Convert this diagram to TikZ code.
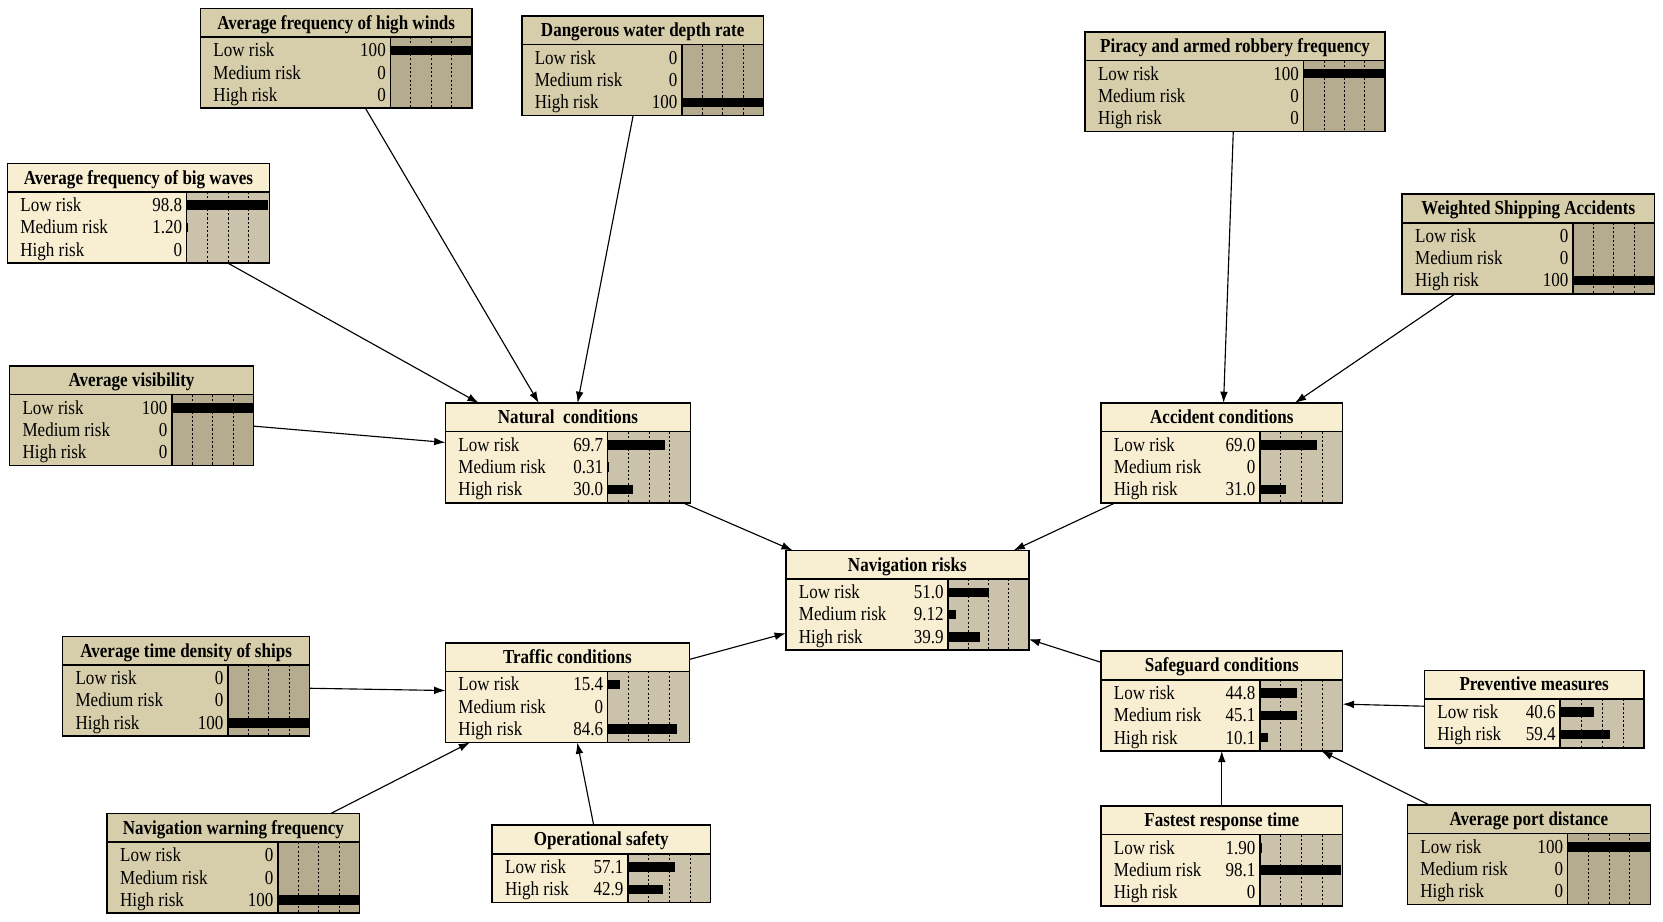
\documentclass[tikz,border=0pt]{standalone}
\usepackage{fontspec}
\setmainfont{Liberation Serif}[FakeStretch=0.86]
\usetikzlibrary{arrows.meta}

\definecolor{cream}{HTML}{F8EED2}
\definecolor{creambar}{HTML}{CBC2AB}
\definecolor{tan}{HTML}{D6CDAA}
\definecolor{tanbar}{HTML}{B5AC90}

\newcommand{\netfont}{\fontsize{14pt}{16pt}\selectfont}

\tikzset{
  boxlight/.style={fill=cream, inner sep=0pt, outer sep=0pt},
  boxdark/.style={fill=tan, inner sep=0pt, outer sep=0pt},
  barlight/.style={fill=creambar},
  bardark/.style={fill=tanbar},
  boxline/.style={line width=1.1pt},
  tick/.style={line width=0.55pt, dash pattern=on 1.5pt off 1.5pt},
  ttl/.style={font=\netfont\bfseries, inner sep=0pt, anchor=base},
  lbl/.style={font=\netfont, inner sep=0pt, anchor=base west},
  val/.style={font=\netfont, inner sep=0pt, anchor=base east},
  arr/.style={line width=0.8pt, -{Latex[length=8pt,width=5.5pt]}}
}

%% #1 name, #2 x, #3 y (top left), #4 width, #5 bar offset, #6 title,
%% #7 rows (label/value), #8 light or dark, #9 number of rows
\newcommand{\bnnode}[9]{%
  \node[box#8, anchor=north west, minimum width={#4*0.75pt},
        minimum height={(31+21*#9)*0.75pt}] (#1) at (#2,#3) {};
  \fill[bar#8] ({#2+#5},{#3+27}) rectangle ({#2+#4},{#3+31+21*#9});
  \foreach \f in {0.25,0.5,0.75}
    \draw[tick] ({#2+#5+\f*(#4-#5)},{#3+27}) -- ++(0,{4+21*#9});
  \draw[boxline] (#2,{#3+27}) -- ({#2+#4},{#3+27});
  \draw[boxline] ({#2+#5},{#3+27}) -- ({#2+#5},{#3+31+21*#9});
  \node[ttl] at ({#2+#4/2},{#3+19.5}) {#6};
  \foreach \lab/\val [count=\i] in {#7} {
    \node[lbl] at ({#2+12},{#3+24.5+21*\i}) {\lab};
    \node[val] at ({#2+#5-4},{#3+24.5+21*\i}) {\val};
    \fill ({#2+#5},{#3+14+21*\i}) rectangle ++({\val/100*(#4-#5)},9);
  }
  \draw[boxline] (#1.north west) rectangle (#1.south east);
}

\begin{document}
\begin{tikzpicture}[x=0.75pt, y=-0.75pt]
\useasboundingbox (0,0) rectangle (1568,869);

%% parent nodes of the natural conditions
\bnnode{hw}{189}{8}{256}{179}{Average frequency of high winds}
  {Low risk/100, Medium risk/0, High risk/0}{dark}{3}
\bnnode{wd}{492}{15}{228}{151}{Dangerous water depth rate}
  {Low risk/0, Medium risk/0, High risk/100}{dark}{3}
\bnnode{bw}{7}{154}{247}{169}{Average frequency of big waves}
  {Low risk/98.8, Medium risk/1.20, High risk/0}{light}{3}
\bnnode{vis}{9}{345}{230}{153}{Average visibility}
  {Low risk/100, Medium risk/0, High risk/0}{dark}{3}
\bnnode{nat}{420}{380}{231}{153}{Natural\ \ conditions}
  {Low risk/69.7, Medium risk/0.31, High risk/30.0}{light}{3}

%% accident side
\bnnode{pir}{1023}{30}{283}{206}{Piracy and armed robbery frequency}
  {Low risk/100, Medium risk/0, High risk/0}{dark}{3}
\bnnode{wsa}{1322}{183}{238}{161}{Weighted Shipping Accidents}
  {Low risk/0, Medium risk/0, High risk/100}{dark}{3}
\bnnode{acc}{1038}{380}{228}{150}{Accident conditions}
  {Low risk/69.0, Medium risk/0, High risk/31.0}{light}{3}

%% the target node
\bnnode{nav}{741}{519}{229}{153}{Navigation risks}
  {Low risk/51.0, Medium risk/9.12, High risk/39.9}{light}{3}

%% traffic side
\bnnode{td}{59}{600}{233}{156}{Average time density of ships}
  {Low risk/0, Medium risk/0, High risk/100}{dark}{3}
\bnnode{tra}{420}{606}{230}{153}{Traffic conditions}
  {Low risk/15.4, Medium risk/0, High risk/84.6}{light}{3}
\bnnode{nw}{101}{767}{238}{161}{Navigation warning frequency}
  {Low risk/0, Medium risk/0, High risk/100}{dark}{3}
\bnnode{ops}{464}{778}{206}{128}{Operational safety}
  {Low risk/57.1, High risk/42.9}{light}{2}

%% safeguard side
\bnnode{saf}{1038}{614}{228}{150}{Safeguard conditions}
  {Low risk/44.8, Medium risk/45.1, High risk/10.1}{light}{3}
\bnnode{pre}{1343}{632}{207}{128}{Preventive measures}
  {Low risk/40.6, High risk/59.4}{light}{2}
\bnnode{frt}{1038}{760}{228}{150}{Fastest response time}
  {Low risk/1.90, Medium risk/98.1, High risk/0}{light}{3}
\bnnode{pd}{1327}{759}{229}{151}{Average port distance}
  {Low risk/100, Medium risk/0, High risk/0}{dark}{3}

%% links
\draw[arr] (hw) -- (nat);
\draw[arr] (wd) -- (nat);
\draw[arr] (bw) -- (nat);
\draw[arr] (vis) -- (nat);
\draw[arr] (pir) -- (acc);
\draw[arr] (wsa) -- (acc);
\draw[arr] (td) -- (tra);
\draw[arr] (nw) -- (tra);
\draw[arr] (ops) -- (tra);
\draw[arr] (pre) -- (saf);
\draw[arr] (frt) -- (saf);
\draw[arr] (pd) -- (saf);
\draw[arr] (nat) -- (nav);
\draw[arr] (acc) -- (nav);
\draw[arr] (tra) -- (nav);
\draw[arr] (saf) -- (nav);
\end{tikzpicture}
\end{document}
